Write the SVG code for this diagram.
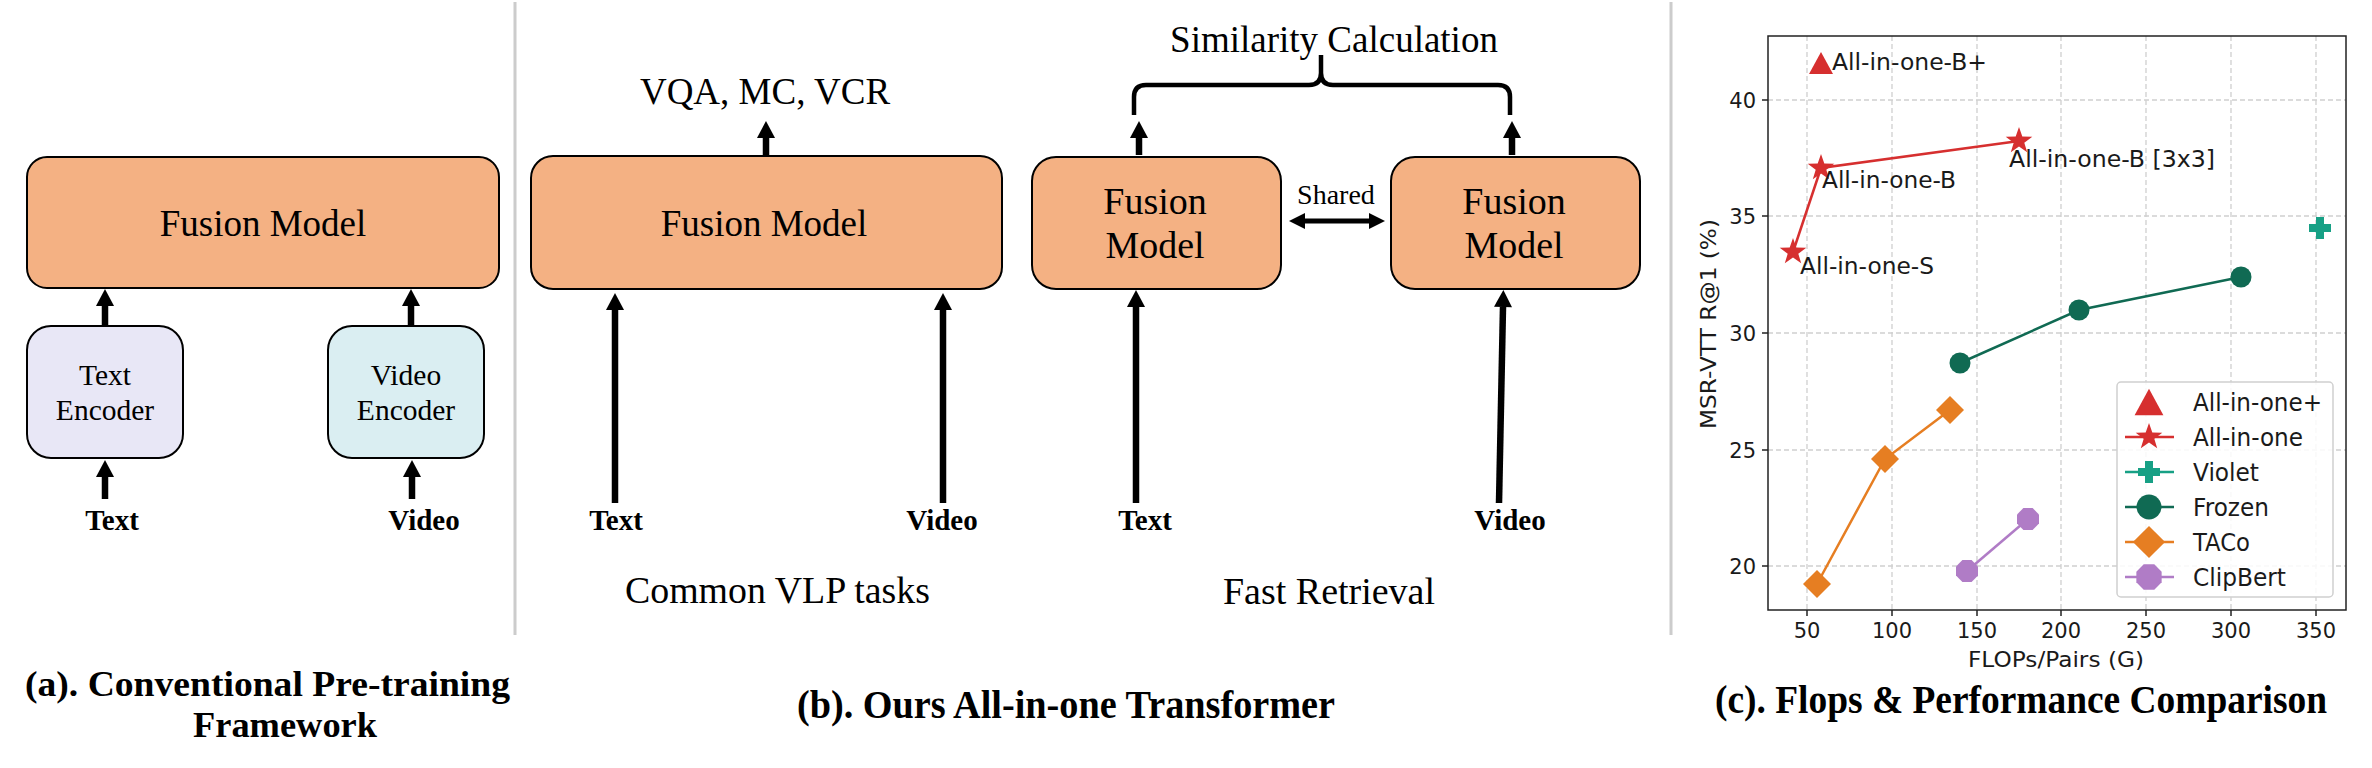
<svg xmlns="http://www.w3.org/2000/svg" xmlns:xlink="http://www.w3.org/1999/xlink" width="2372" height="768" viewBox="0 0 2372 768">
<style>
.serif{font-family:"Liberation Serif","Times New Roman",serif;fill:#000}
.bold{font-weight:bold}
.sans{font-family:"DejaVu Sans","Liberation Sans",sans-serif;fill:#1a1a1a}
.box{stroke:#000;stroke-width:2}
.fusion{fill:#f4b183}
.arrow{stroke:#000;stroke-width:6.5;fill:none}
.grid{stroke:#cfcfcf;stroke-width:1.3;stroke-dasharray:5 3}
.tick{stroke:#222;stroke-width:1.5}
.divider{stroke:#cccccc;stroke-width:3}
</style>
<defs>
<marker id="head" markerUnits="userSpaceOnUse" markerWidth="17" markerHeight="18" refX="0" refY="9" orient="auto" overflow="visible"><path d="M0,0 L17,9 L0,18 z" fill="#000"/></marker>
<marker id="head2" markerUnits="userSpaceOnUse" markerWidth="16" markerHeight="16" refX="0" refY="8" orient="auto-start-reverse" overflow="visible"><path d="M0,0 L16,8 L0,16 z" fill="#000"/></marker>
<path id="star" d="M0,-14 L3.3,-4.5 L13.3,-4.3 L5.3,1.7 L8.2,11.3 L0,5.6 L-8.2,11.3 L-5.3,1.7 L-13.3,-4.3 L-3.3,-4.5 z"/>
<path id="tri" d="M0,-11 L12,11 L-12,11 z"/>
<path id="plus" d="M-4,-11 H4 V-4 H11 V4 H4 V11 H-4 V4 H-11 V-4 H-4 z"/>
<path id="diam" d="M0,-14 L14,0 L0,14 L-14,0 z"/>
<path id="oct" d="M-4.6,-11 L4.6,-11 L11,-4.6 L11,4.6 L4.6,11 L-4.6,11 L-11,4.6 L-11,-4.6 z"/>
</defs>
<rect width="2372" height="768" fill="#fff"/>

<!-- dividers -->
<line class="divider" x1="515" y1="2" x2="515" y2="635"/>
<line class="divider" x1="1671" y1="2" x2="1671" y2="635"/>

<!-- Panel (a) -->
<g id="a-fusion"><rect class="box fusion" x="27" y="157" width="472" height="131" rx="20"/><text class="serif" x="263" y="236" font-size="37" text-anchor="middle">Fusion Model</text></g>
<g id="a-text-encoder"><rect class="box" x="27" y="326" width="156" height="132" rx="24" fill="#e8e7f6"/><text class="serif" x="105" y="385" font-size="29.5" text-anchor="middle">Text</text><text class="serif" x="105" y="420" font-size="29.5" text-anchor="middle">Encoder</text></g>
<g id="a-video-encoder"><rect class="box" x="328" y="326" width="156" height="132" rx="24" fill="#daeef2"/><text class="serif" x="406" y="385" font-size="29.5" text-anchor="middle">Video</text><text class="serif" x="406" y="420" font-size="29.5" text-anchor="middle">Encoder</text></g>
<g id="a-text-input"><text class="serif bold" x="112" y="530" font-size="29" text-anchor="middle">Text</text></g>
<g id="a-video-input"><text class="serif bold" x="424" y="530" font-size="29" text-anchor="middle">Video</text></g>

<!-- Panel (b) left -->
<g id="b-output"><text class="serif" x="765" y="104" font-size="37" text-anchor="middle">VQA, MC, VCR</text></g>
<g id="b-fusion"><rect class="box fusion" x="531" y="156" width="471" height="133" rx="22"/><text class="serif" x="764" y="236" font-size="37" text-anchor="middle">Fusion Model</text></g>
<g id="b-text-input"><text class="serif bold" x="616" y="530" font-size="29" text-anchor="middle">Text</text></g>
<g id="b-video-input"><text class="serif bold" x="942" y="530" font-size="29" text-anchor="middle">Video</text></g>
<g id="b-caption-left"><text class="serif" x="625" y="603" font-size="37.5" textLength="305" lengthAdjust="spacingAndGlyphs">Common VLP tasks</text></g>

<!-- Panel (b) right -->
<g id="similarity"><text class="serif" x="1334" y="52" font-size="37" text-anchor="middle">Similarity Calculation</text>
<path d="M1134,115 L1134,97 Q1134,85 1146,85 L1309,85 Q1321,85 1321,73 L1321,55 M1321,73 Q1321,85 1333,85 L1498,85 Q1510,85 1510,97 L1510,115" fill="none" stroke="#000" stroke-width="4.5"/></g>
<g id="r-fusion-left"><rect class="box fusion" x="1032" y="157" width="249" height="132" rx="24"/><text class="serif" x="1155" y="214" font-size="38" text-anchor="middle">Fusion</text><text class="serif" x="1155" y="258" font-size="38" text-anchor="middle">Model</text></g>
<g id="r-fusion-right"><rect class="box fusion" x="1391" y="157" width="249" height="132" rx="24"/><text class="serif" x="1514" y="214" font-size="38" text-anchor="middle">Fusion</text><text class="serif" x="1514" y="258" font-size="38" text-anchor="middle">Model</text></g>
<g id="shared-label"><text class="serif" x="1336" y="204" font-size="28" text-anchor="middle">Shared</text></g>
<g id="r-text-input"><text class="serif bold" x="1145" y="530" font-size="29" text-anchor="middle">Text</text></g>
<g id="r-video-input"><text class="serif bold" x="1510" y="530" font-size="29" text-anchor="middle">Video</text></g>
<g id="b-caption-right"><text class="serif" x="1223" y="604" font-size="37.5" textLength="212" lengthAdjust="spacingAndGlyphs">Fast Retrieval</text></g>

<!-- connectors -->
<g id="connectors">
<line class="arrow" x1="105" y1="326" x2="105" y2="306" marker-end="url(#head)"/>
<line class="arrow" x1="411" y1="326" x2="411" y2="306" marker-end="url(#head)"/>
<line class="arrow" x1="105" y1="499" x2="105" y2="477" marker-end="url(#head)"/>
<line class="arrow" x1="412" y1="499" x2="412" y2="477" marker-end="url(#head)"/>
<line class="arrow" x1="766" y1="156" x2="766" y2="138" marker-end="url(#head)"/>
<line class="arrow" x1="615" y1="503" x2="615" y2="310" marker-end="url(#head)"/>
<line class="arrow" x1="943" y1="503" x2="943" y2="310" marker-end="url(#head)"/>
<line class="arrow" x1="1139" y1="155" x2="1139" y2="138" marker-end="url(#head)"/>
<line class="arrow" x1="1512" y1="155" x2="1512" y2="138" marker-end="url(#head)"/>
<line class="arrow" x1="1136" y1="503" x2="1136" y2="307" marker-end="url(#head)"/>
<line class="arrow" x1="1499" y1="503" x2="1503" y2="307" marker-end="url(#head)"/>
<line x1="1305" y1="221" x2="1369" y2="221" stroke="#000" stroke-width="5" marker-start="url(#head2)" marker-end="url(#head2)"/>
</g>

<!-- Panel (c) chart -->
<g id="chart">
<g id="gridlines">
<line class="grid" x1="1807" y1="36" x2="1807" y2="610"/>
<line class="grid" x1="1892" y1="36" x2="1892" y2="610"/>
<line class="grid" x1="1977" y1="36" x2="1977" y2="610"/>
<line class="grid" x1="2061" y1="36" x2="2061" y2="610"/>
<line class="grid" x1="2146" y1="36" x2="2146" y2="610"/>
<line class="grid" x1="2231" y1="36" x2="2231" y2="610"/>
<line class="grid" x1="2316" y1="36" x2="2316" y2="610"/>
<line class="grid" x1="1768" y1="100" x2="2346" y2="100"/>
<line class="grid" x1="1768" y1="216" x2="2346" y2="216"/>
<line class="grid" x1="1768" y1="333" x2="2346" y2="333"/>
<line class="grid" x1="1768" y1="450" x2="2346" y2="450"/>
<line class="grid" x1="1768" y1="566" x2="2346" y2="566"/>
</g>
<rect x="1768" y="36" width="578" height="574" fill="none" stroke="#222" stroke-width="1.5"/>
<g id="ticks">
<line class="tick" x1="1807" y1="610" x2="1807" y2="616"/><line class="tick" x1="1892" y1="610" x2="1892" y2="616"/><line class="tick" x1="1977" y1="610" x2="1977" y2="616"/><line class="tick" x1="2061" y1="610" x2="2061" y2="616"/><line class="tick" x1="2146" y1="610" x2="2146" y2="616"/><line class="tick" x1="2231" y1="610" x2="2231" y2="616"/><line class="tick" x1="2316" y1="610" x2="2316" y2="616"/>
<line class="tick" x1="1762" y1="100" x2="1768" y2="100"/><line class="tick" x1="1762" y1="216" x2="1768" y2="216"/><line class="tick" x1="1762" y1="333" x2="1768" y2="333"/><line class="tick" x1="1762" y1="450" x2="1768" y2="450"/><line class="tick" x1="1762" y1="566" x2="1768" y2="566"/>
</g>
<g id="tick-labels">
<text class="sans" x="1807" y="638" font-size="21" text-anchor="middle">50</text>
<text class="sans" x="1892" y="638" font-size="21" text-anchor="middle">100</text>
<text class="sans" x="1977" y="638" font-size="21" text-anchor="middle">150</text>
<text class="sans" x="2061" y="638" font-size="21" text-anchor="middle">200</text>
<text class="sans" x="2146" y="638" font-size="21" text-anchor="middle">250</text>
<text class="sans" x="2231" y="638" font-size="21" text-anchor="middle">300</text>
<text class="sans" x="2316" y="638" font-size="21" text-anchor="middle">350</text>
<text class="sans" x="1756" y="108" font-size="21" text-anchor="end">40</text>
<text class="sans" x="1756" y="224" font-size="21" text-anchor="end">35</text>
<text class="sans" x="1756" y="341" font-size="21" text-anchor="end">30</text>
<text class="sans" x="1756" y="458" font-size="21" text-anchor="end">25</text>
<text class="sans" x="1756" y="574" font-size="21" text-anchor="end">20</text>
</g>
<text class="sans" x="2056" y="667" font-size="22" text-anchor="middle" textLength="176" lengthAdjust="spacingAndGlyphs">FLOPs/Pairs (G)</text>
<text class="sans" transform="translate(1716,324) rotate(-90)" x="0" y="0" font-size="22" text-anchor="middle" textLength="210" lengthAdjust="spacingAndGlyphs">MSR-VTT R@1 (%)</text>

<g id="series-clipbert" fill="#b07cc6">
<polyline points="1967,571 2028,519" fill="none" stroke="#b07cc6" stroke-width="2.5"/>
<use xlink:href="#oct" x="1967" y="571"/><use xlink:href="#oct" x="2028" y="519"/>
</g>
<g id="series-taco" fill="#e67e22">
<polyline points="1817,584 1885,459 1950,410" fill="none" stroke="#e67e22" stroke-width="2.5"/>
<use xlink:href="#diam" x="1817" y="584"/><use xlink:href="#diam" x="1885" y="459"/><use xlink:href="#diam" x="1950" y="410"/>
</g>
<g id="series-frozen" fill="#106a53">
<polyline points="1960,363 2079,310 2241,277" fill="none" stroke="#106a53" stroke-width="2.5"/>
<circle cx="1960" cy="363" r="10.5"/><circle cx="2079" cy="310" r="10.5"/><circle cx="2241" cy="277" r="10.5"/>
</g>
<g id="series-violet" fill="#17a085">
<use xlink:href="#plus" x="2320" y="228"/>
</g>
<g id="series-allinone" fill="#d62f2f">
<polyline points="1793,252 1821,168 2019,141" fill="none" stroke="#d62f2f" stroke-width="2.5"/>
<use xlink:href="#star" x="1793" y="252"/><use xlink:href="#star" x="1821" y="168"/><use xlink:href="#star" x="2019" y="141"/>
<use xlink:href="#tri" x="1821" y="63"/>
</g>
<g id="point-labels">
<text class="sans" x="1832" y="70" font-size="23" textLength="155" lengthAdjust="spacingAndGlyphs">All-in-one-B+</text>
<text class="sans" x="2009" y="167" font-size="23" textLength="206" lengthAdjust="spacingAndGlyphs">All-in-one-B [3x3]</text>
<text class="sans" x="1822" y="188" font-size="23" textLength="134" lengthAdjust="spacingAndGlyphs">All-in-one-B</text>
<text class="sans" x="1800" y="274" font-size="23" textLength="134" lengthAdjust="spacingAndGlyphs">All-in-one-S</text>
</g>
<g id="legend">
<rect x="2117" y="382" width="216" height="215" rx="4" fill="#fff" fill-opacity="0.85" stroke="#d0d0d0" stroke-width="1.5"/>
<use xlink:href="#tri" x="2149" y="402" fill="#d62f2f" transform="translate(2149,402) scale(1.2) translate(-2149,-402)"/>
<line x1="2125" y1="437" x2="2174" y2="437" stroke="#d62f2f" stroke-width="2.5"/><use xlink:href="#star" x="2149" y="437" fill="#d62f2f"/>
<line x1="2125" y1="472" x2="2174" y2="472" stroke="#17a085" stroke-width="2.5"/><use xlink:href="#plus" x="2149" y="472" fill="#17a085"/>
<line x1="2125" y1="507" x2="2174" y2="507" stroke="#106a53" stroke-width="2.5"/><circle cx="2149" cy="507" r="12.5" fill="#106a53"/>
<line x1="2125" y1="542" x2="2174" y2="542" stroke="#e67e22" stroke-width="2.5"/><use xlink:href="#diam" x="2149" y="542" fill="#e67e22" transform="translate(2149,542) scale(1.15) translate(-2149,-542)"/>
<line x1="2125" y1="577" x2="2174" y2="577" stroke="#b07cc6" stroke-width="2.5"/><use xlink:href="#oct" x="2149" y="577" fill="#b07cc6" transform="translate(2149,577) scale(1.15) translate(-2149,-577)"/>
<text class="sans" x="2193" y="411" font-size="24" textLength="129" lengthAdjust="spacingAndGlyphs">All-in-one+</text>
<text class="sans" x="2193" y="446" font-size="24" textLength="110" lengthAdjust="spacingAndGlyphs">All-in-one</text>
<text class="sans" x="2193" y="481" font-size="24" textLength="66" lengthAdjust="spacingAndGlyphs">Violet</text>
<text class="sans" x="2193" y="516" font-size="24" textLength="76" lengthAdjust="spacingAndGlyphs">Frozen</text>
<text class="sans" x="2193" y="551" font-size="24" textLength="57" lengthAdjust="spacingAndGlyphs">TACo</text>
<text class="sans" x="2193" y="586" font-size="24" textLength="93" lengthAdjust="spacingAndGlyphs">ClipBert</text>
</g>
</g>

<!-- captions -->
<g id="caption-a"><text class="serif bold" x="25" y="696" font-size="36" textLength="485" lengthAdjust="spacingAndGlyphs">(a). Conventional Pre-training</text><text class="serif bold" x="193" y="737" font-size="36" textLength="184" lengthAdjust="spacingAndGlyphs">Framework</text></g>
<g id="caption-b"><text class="serif bold" x="797" y="718" font-size="40" textLength="538" lengthAdjust="spacingAndGlyphs">(b). Ours All-in-one Transformer</text></g>
<g id="caption-c"><text class="serif bold" x="1715" y="713" font-size="40" textLength="612" lengthAdjust="spacingAndGlyphs">(c). Flops &amp; Performance Comparison</text></g>
</svg>
